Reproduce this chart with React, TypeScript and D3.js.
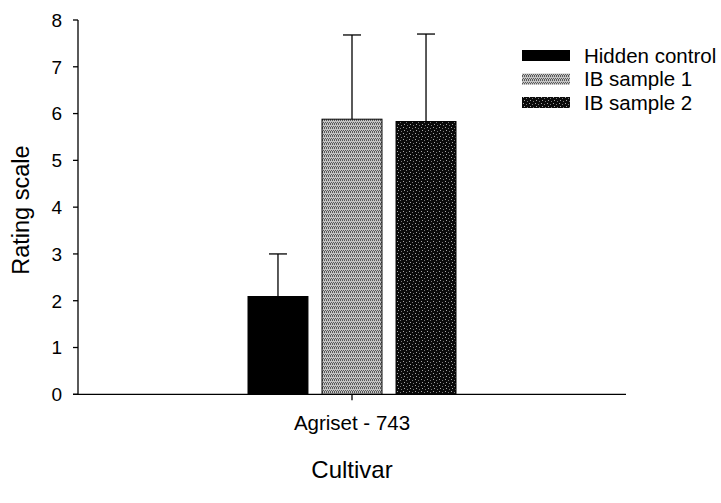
import { useEffect, useRef } from 'react';
import * as d3 from 'd3';

const categories = ['Agriset - 743'];
const seriesNames = ['Hidden control', 'IB sample 1', 'IB sample 2'];
const means = [2.09, 5.88, 5.83];
const upperErr = [3.0, 7.68, 7.7];
const yTicks = [0, 1, 2, 3, 4, 5, 6, 7, 8];

const fills = ['#000', 'url(#pat1)', 'url(#pat2)'];

export default function App() {
  const ref = useRef<SVGSVGElement>(null);

  useEffect(() => {
    const svg = d3.select(ref.current);
    svg.selectAll('*').remove();
    const font = 'Arial, "Liberation Sans", sans-serif';

    // textures for the two sample bars
    const defs = svg.append('defs');
    const p1 = defs.append('pattern').attr('id', 'pat1').attr('patternUnits', 'userSpaceOnUse')
      .attr('width', 4).attr('height', 4);
    p1.append('rect').attr('width', 4).attr('height', 4).attr('fill', '#c4c4c4');
    [[0, 0], [2, 0], [1, 2], [3, 2], [0, 3], [2, 3]].forEach(([px, py]) => {
      p1.append('rect').attr('x', px).attr('y', py).attr('width', 1).attr('height', 1).attr('fill', '#5a5a5a');
    });
    const p2 = defs.append('pattern').attr('id', 'pat2').attr('patternUnits', 'userSpaceOnUse')
      .attr('width', 6).attr('height', 6);
    p2.append('rect').attr('width', 6).attr('height', 6).attr('fill', '#0a0a0a');
    [[1, 1], [4, 2], [2, 4], [5, 5]].forEach(([px, py], k) => {
      p2.append('rect').attr('x', px).attr('y', py).attr('width', 1).attr('height', 1)
        .attr('fill', k % 2 ? '#7a7a7a' : '#a8a8a8');
    });

    const x0 = 78, x1 = 626, yBase = 394.3, yTop = 20;
    const x = d3.scaleBand().domain(categories).range([x0, x1]);
    const y = d3.scaleLinear().domain([0, 8]).range([yBase, yTop]);

    const c = x(categories[0])! + x.bandwidth() / 2;
    const inner = d3.scaleBand().domain(seriesNames).range([c - 104, c + 104]).paddingInner(0.19);

    const g = svg.append('g');

    // error bars (upper only)
    seriesNames.forEach((s, i) => {
      const cx = inner(s)! + inner.bandwidth() / 2;
      g.append('line').attr('x1', cx).attr('x2', cx).attr('y1', y(means[i])).attr('y2', y(upperErr[i]))
        .attr('stroke', '#000').attr('stroke-width', 1.3);
      g.append('line').attr('x1', cx - 9).attr('x2', cx + 9).attr('y1', y(upperErr[i])).attr('y2', y(upperErr[i]))
        .attr('stroke', '#000').attr('stroke-width', 1.3);
    });

    g.selectAll('.bar').data(seriesNames).enter().append('rect')
      .attr('x', d => inner(d)!)
      .attr('y', (d, i) => y(means[i]))
      .attr('width', inner.bandwidth())
      .attr('height', (d, i) => yBase - y(means[i]))
      .attr('fill', (d, i) => fills[i])
      .attr('stroke', '#000').attr('stroke-width', 1);

    // y axis
    g.append('line').attr('x1', x0).attr('x2', x0).attr('y1', yBase).attr('y2', yTop)
      .attr('stroke', '#000').attr('stroke-width', 1.3);
    yTicks.forEach(t => {
      g.append('line').attr('x1', x0 - 5).attr('x2', x0).attr('y1', y(t)).attr('y2', y(t))
        .attr('stroke', '#000').attr('stroke-width', 1.3);
      g.append('text').attr('x', 62).attr('y', y(t)).attr('dy', '0.36em')
        .attr('text-anchor', 'end').attr('font-family', font).attr('font-size', 19).text(t);
    });

    // x axis
    g.append('line').attr('x1', x0 - 5).attr('x2', x1).attr('y1', yBase).attr('y2', yBase)
      .attr('stroke', '#000').attr('stroke-width', 1.3);
    g.append('line').attr('x1', c).attr('x2', c).attr('y1', yBase).attr('y2', yBase + 6)
      .attr('stroke', '#000').attr('stroke-width', 1.3);
    g.append('text').attr('x', c).attr('y', 430).attr('text-anchor', 'middle')
      .attr('font-family', font).attr('font-size', 20.5).text(categories[0]);

    g.append('text').attr('x', c).attr('y', 478).attr('text-anchor', 'middle')
      .attr('font-family', font).attr('font-size', 24).text('Cultivar');
    g.append('text').attr('transform', `translate(29,${y(4) + 3}) rotate(-90)`).attr('text-anchor', 'middle')
      .attr('font-family', font).attr('font-size', 23.5).text('Rating scale');

    // legend
    seriesNames.forEach((s, i) => {
      const ly = 55.5 + i * 23.5;
      g.append('rect').attr('x', 522).attr('y', ly - 5.5).attr('width', 48).attr('height', 11)
        .attr('fill', fills[i]);
      g.append('text').attr('x', 584).attr('y', ly).attr('dy', '0.36em')
        .attr('font-family', font).attr('font-size', 20.5).text(s);
    });
  }, []);

  return (
    <svg ref={ref} width={721} height={503}
      style={{ position: 'absolute', left: 0, top: 0, background: '#fff' }} />
  );
}
